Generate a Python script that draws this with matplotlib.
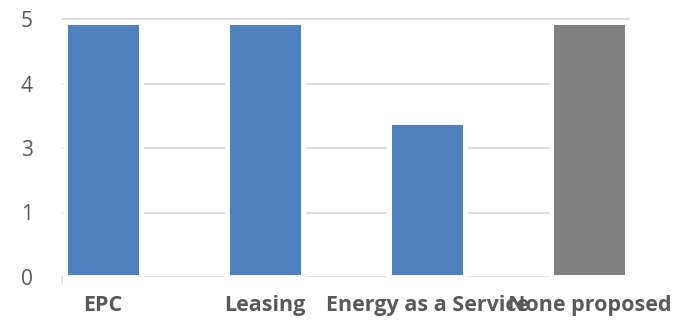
import matplotlib.pyplot as plt

categories = ['EPC', 'Leasing', 'Energy as a Service', 'None proposed']
# bar heights in tick-position units (axis ticks are evenly spaced but labelled 0,1,3,4,5)
values = [3.96, 3.96, 2.40, 3.96]
bar_colors = ['#4f81bd', '#4f81bd', '#4f81bd', '#808080']
tick_labels = ['0', '1', '3', '4', '5']

fig = plt.figure(figsize=(6.87, 3.2), dpi=100)
unit = 64.5  # px per tick step
top_pad = 2 / unit
ax = fig.add_axes([62 / 687, 1 - 277 / 320, (630 - 62) / 687, (258 + 2) / 320])

x = list(range(len(categories)))
ax.bar(x, values, width=0.468, color=bar_colors, edgecolor='white', linewidth=3.6, zorder=3)

ax.set_xlim(-0.25, 3.25)
ax.set_ylim(0, 4 + top_pad)
ax.set_yticks(range(len(tick_labels)))
ax.set_yticklabels(tick_labels, fontsize=15, color='#595959', family='Open Sans')
ax.tick_params(axis='y', length=0, pad=21)

ax.set_xticks(x)
ax.set_xticklabels(categories, fontsize=15.5, fontweight='bold', color='#595959', family='Open Sans')
ax.tick_params(axis='x', length=0, pad=13)
ax.set_xticks([-0.25], minor=True)
ax.tick_params(axis='x', which='minor', length=5, color='#d9d9d9', width=1.2)

ax.grid(axis='y', color='#d9d9d9', linewidth=1.2, zorder=0)
for s in ['top', 'right', 'left', 'bottom']:
    ax.spines[s].set_visible(False)

fig.savefig('out.png', dpi=100)
